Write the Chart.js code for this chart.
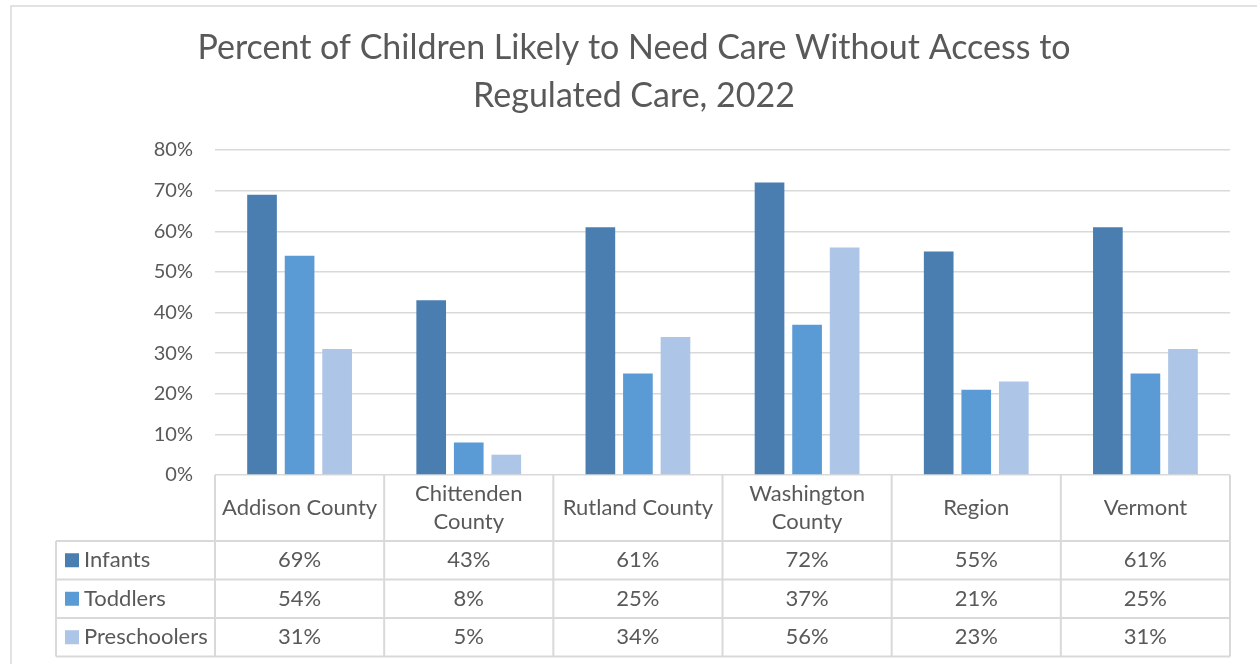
<!DOCTYPE html>
<html>
<head>
<meta charset="utf-8">
<script src="https://cdn.jsdelivr.net/npm/chart.js@4"></script>
<style>
  html, body { margin: 0; padding: 0; background: #fff; }
  #wrap { width: 1257px; height: 664px; position: relative; }
</style>
</head>
<body>
<div id="wrap"><canvas id="c" width="1257" height="664"></canvas></div>
<script>
// ---- data ----
const titleLines = ["Percent of Children Likely to Need Care Without Access to", "Regulated Care, 2022"];
const categories = [["Addison County"], ["Chittenden", "County"], ["Rutland County"], ["Washington", "County"], ["Region"], ["Vermont"]];
const seriesNames = ["Infants", "Toddlers", "Preschoolers"];
const infants = [69, 43, 61, 72, 55, 61];
const toddlers = [54, 8, 25, 37, 21, 25];
const preschoolers = [31, 5, 34, 56, 23, 31];
const yTicks = [0, 10, 20, 30, 40, 50, 60, 70, 80];

const colors = ["#4A7EB1", "#5B9BD5", "#ADC5E6"];
const TXT = "#595959";
const GRID = "#D9D9D9";
const FONT = "Lato, 'Open Sans', sans-serif";

const tablePlugin = {
  id: "dataTable",
  afterDraw(chart) {
    const ctx = chart.ctx;
    const ca = chart.chartArea;
    const x = chart.scales.x;
    const n = categories.length;
    const colW = (ca.right - ca.left) / n;
    const headerTop = ca.bottom, headerBot = 541;
    const rowH = 38.5;
    const tableLeft = 56;
    const rowsY = [headerBot, headerBot + rowH, headerBot + 2 * rowH, headerBot + 3 * rowH];
    ctx.save();
    // outer chart border
    ctx.strokeStyle = GRID;
    ctx.lineWidth = 1.5;
    ctx.beginPath();
    ctx.moveTo(11, 670); ctx.lineTo(11, 6); ctx.lineTo(1262, 6);
    ctx.stroke();

    // title
    ctx.fillStyle = TXT;
    ctx.font = "34px " + FONT;
    ctx.textAlign = "center";
    ctx.textBaseline = "middle";
    ctx.fillText(titleLines[0], 634, 48);
    ctx.fillText(titleLines[1], 634, 96);

    // table grid
    ctx.strokeStyle = GRID;
    ctx.lineWidth = 2;
    ctx.beginPath();
    for (let i = 0; i <= n; i++) {
      const vx = ca.left + i * colW;
      ctx.moveTo(vx, headerTop); ctx.lineTo(vx, rowsY[3]);
    }
    ctx.moveTo(tableLeft, rowsY[0]); ctx.lineTo(tableLeft, rowsY[3]);
    for (const ry of rowsY) { ctx.moveTo(tableLeft, ry); ctx.lineTo(ca.right, ry); }
    ctx.stroke();

    // header labels
    ctx.font = "22px " + FONT;
    ctx.fillStyle = TXT;
    ctx.textAlign = "center";
    ctx.textBaseline = "middle";
    const hMid = (headerTop + headerBot) / 2;
    categories.forEach((lines, i) => {
      const cx = x.getPixelForValue(i);
      const lh = 28;
      const y0 = hMid - (lines.length - 1) * lh / 2;
      lines.forEach((l, k) => ctx.fillText(l, cx, y0 + k * lh));
    });
    // rows
    const series = [infants, toddlers, preschoolers];
    series.forEach((vals, r) => {
      const cy = rowsY[r] + rowH / 2;
      vals.forEach((v, i) => {
        ctx.textAlign = "center";
        ctx.fillText(v + "%", x.getPixelForValue(i), cy);
      });
      ctx.fillStyle = colors[r];
      ctx.fillRect(65, cy - 7, 14, 14);
      ctx.fillStyle = TXT;
      ctx.textAlign = "left";
      ctx.fillText(seriesNames[r], 84, cy);
    });
    ctx.restore();
  }
};

new Chart(document.getElementById("c"), {
  type: "bar",
  data: {
    labels: categories.map(c => c.join(" ")),
    datasets: [
      { label: seriesNames[0], data: infants, backgroundColor: colors[0] },
      { label: seriesNames[1], data: toddlers, backgroundColor: colors[1] },
      { label: seriesNames[2], data: preschoolers, backgroundColor: colors[2] }
    ]
  },
  options: {
    responsive: false,
    animation: false,
    devicePixelRatio: 1,
    layout: { padding: { left: 0, right: 27, top: 150, bottom: 189 } },
    datasets: { bar: { categoryPercentage: 0.666, barPercentage: 0.79 } },
    plugins: { legend: { display: false }, tooltip: { enabled: false }, title: { display: false } },
    scales: {
      x: { display: false },
      y: {
        min: 0, max: 80,
        afterFit(s) { s.width = 215; },
        afterBuildTicks(s) { s.ticks = yTicks.map(v => ({ value: v })); },
        border: { display: false },
        grid: { color: GRID, lineWidth: 1.5, drawTicks: false },
        ticks: { padding: 22, color: TXT, font: { family: FONT, size: 20 }, callback: v => v + "%" }
      }
    }
  },
  plugins: [tablePlugin]
});
</script>
</body>
</html>
